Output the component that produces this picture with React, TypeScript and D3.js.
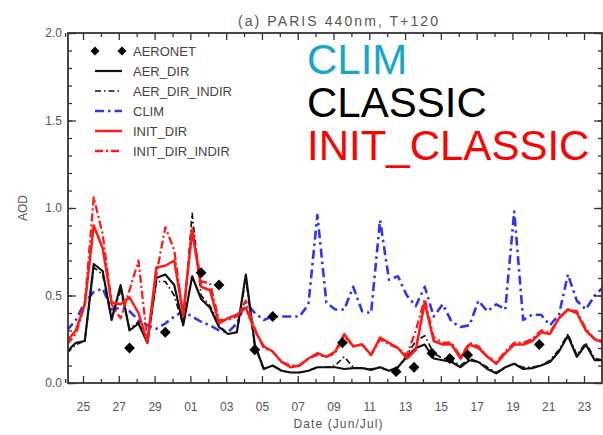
import React, { useRef, useEffect } from 'react';
import {
  select,
  scaleLinear,
  line,
  axisBottom,
  axisTop,
  axisLeft,
  axisRight,
  symbol,
  symbolSquare,
  range
} from 'd3';

// days counted from 25 Jun (0 = 25 Jun, 6 = 01 Jul)
const days = [
  -0.9, -0.4, 0.1, 0.6, 1.1, 1.6, 2.1, 2.6, 3.1, 3.6,
  4.1, 4.6, 5.1, 5.6, 6.1, 6.6, 7.1, 7.6, 8.1, 8.6,
  9.1, 9.6, 10.1, 10.6, 11.1, 11.6, 12.1, 12.6, 13.1, 13.6,
  14.1, 14.6, 15.1, 15.6, 16.1, 16.6, 17.1, 17.6, 18.1, 18.6,
  19.1, 19.6, 20.1, 20.6, 21.1, 21.6, 22.1, 22.6, 23.1, 23.6,
  24.1, 24.6, 25.1, 25.6, 26.1, 26.6, 27.1, 27.6, 28.1, 28.6,
  29.1
];

const aerDir = [
  0.18, 0.23, 0.24, 0.68, 0.64, 0.36, 0.56, 0.30, 0.34, 0.23,
  0.60, 0.62, 0.56, 0.33, 0.61, 0.48, 0.43, 0.32, 0.28, 0.29,
  0.62, 0.22, 0.08, 0.10, 0.07, 0.06, 0.06, 0.07, 0.09, 0.09,
  0.09, 0.08, 0.085, 0.085, 0.075, 0.09, 0.07, 0.09, 0.15, 0.20,
  0.22, 0.14, 0.13, 0.12, 0.09, 0.13, 0.12, 0.08, 0.055, 0.09,
  0.11, 0.08, 0.085, 0.10, 0.12, 0.18, 0.27, 0.15, 0.22, 0.13, 0.13
];

const aerDirIndir = [
  0.17, 0.22, 0.24, 0.66, 0.62, 0.37, 0.53, 0.31, 0.35, 0.23,
  0.58, 0.58, 0.50, 0.33, 0.97, 0.50, 0.44, 0.33, 0.28, 0.29,
  0.60, 0.21, 0.08, 0.10, 0.07, 0.06, 0.06, 0.07, 0.09, 0.09,
  0.10, 0.15, 0.09, 0.085, 0.08, 0.09, 0.07, 0.09, 0.16, 0.24,
  0.27, 0.17, 0.14, 0.13, 0.10, 0.14, 0.12, 0.09, 0.06, 0.09,
  0.11, 0.09, 0.09, 0.10, 0.13, 0.19, 0.28, 0.16, 0.23, 0.14, 0.13
];

const clim = [
  0.30, 0.36, 0.46, 0.52, 0.54, 0.42, 0.43, 0.41, 0.36, 0.33,
  0.31, 0.34, 0.38, 0.41, 0.38, 0.35, 0.33, 0.30, 0.29, 0.34,
  0.46, 0.40, 0.36, 0.38, 0.38, 0.38, 0.38, 0.45, 0.96, 0.46,
  0.42, 0.42, 0.55, 0.41, 0.40, 0.93, 0.59, 0.61, 0.50, 0.44,
  0.55, 0.38, 0.45, 0.35, 0.32, 0.33, 0.47, 0.41, 0.45, 0.42,
  0.98, 0.36, 0.39, 0.39, 0.33, 0.39, 0.62, 0.47, 0.42, 0.50, 0.55
];

const initDir = [
  0.24, 0.30, 0.45, 0.90, 0.77, 0.46, 0.45, 0.49, 0.40, 0.23,
  0.66, 0.67, 0.70, 0.39, 0.87, 0.55, 0.53, 0.34, 0.37, 0.39,
  0.43, 0.30, 0.21, 0.18, 0.12, 0.09, 0.10, 0.14, 0.17, 0.15,
  0.18, 0.28, 0.21, 0.22, 0.16, 0.26, 0.23, 0.20, 0.14, 0.19,
  0.46, 0.24, 0.22, 0.22, 0.14, 0.22, 0.20, 0.15, 0.11, 0.17,
  0.22, 0.22, 0.24, 0.29, 0.28, 0.37, 0.42, 0.40, 0.30, 0.25, 0.23
];

const initDirIndir = [
  0.22, 0.28, 0.45, 1.06, 0.85, 0.45, 0.37, 0.53, 0.70, 0.24,
  0.62, 0.89, 0.76, 0.38, 0.89, 0.58, 0.57, 0.36, 0.36, 0.38,
  0.47, 0.31, 0.20, 0.18, 0.12, 0.10, 0.10, 0.14, 0.16, 0.15,
  0.17, 0.27, 0.21, 0.22, 0.16, 0.25, 0.22, 0.20, 0.16, 0.30,
  0.48, 0.26, 0.23, 0.23, 0.15, 0.23, 0.21, 0.15, 0.12, 0.18,
  0.23, 0.23, 0.25, 0.30, 0.29, 0.37, 0.42, 0.41, 0.31, 0.25, 0.24
];

const aeronetDays = [2.6, 4.6, 6.6, 7.6, 9.6, 10.6, 14.5, 17.5, 18.5, 19.5, 20.5, 21.5, 25.5];
const aeronetAod = [0.20, 0.29, 0.63, 0.56, 0.19, 0.38, 0.23, 0.065, 0.09, 0.17, 0.14, 0.16, 0.22];

const tickDays = [0, 2, 4, 6, 8, 10, 12, 14, 16, 18, 20, 22, 24, 26, 28];
const tickLabels = ['25', '27', '29', '01', '03', '05', '07', '09', '11', '13', '15', '17', '19', '21', '23'];
const yTicks = [0, 0.5, 1.0, 1.5, 2.0];

const legendNames = ['AER_DIR', 'AER_DIR_INDIR', 'CLIM', 'INIT_DIR', 'INIT_DIR_INDIR'];
const bigLabels = ['CLIM', 'CLASSIC', 'INIT_CLASSIC'];
const bigColors = ['#18a6c8', '#000000', '#ff0000'];

const width = 603;
const height = 435;
const left = 68;
const right = 602;
const top = 33;
const bottom = 383;
const font = '"Liberation Sans", Arial, Helvetica, sans-serif';

const App = () => {
  const ref = useRef(null);

  useEffect(() => {
    const svg = select(ref.current);
    svg.selectAll('*').remove();

    const x = scaleLinear().domain([0, 28]).range([83, 584]);
    const y = scaleLinear().domain([0, 2]).range([bottom, top]);

    const series = [
      { values: aerDir, color: '#111111', width: 2.2, dash: null },
      { values: aerDirIndir, color: '#111111', width: 1.7, dash: '6,3,1.5,3' },
      { values: clim, color: '#3434f0', width: 2.6, dash: '9,4,2.5,4' },
      { values: initDir, color: '#ff1a1a', width: 2.5, dash: null },
      { values: initDirIndir, color: '#ff1a1a', width: 2.3, dash: '8,3,2,3' }
    ];
    const drawOrder = [2, 1, 0, 4, 3];

    svg.append('rect').attr('width', width).attr('height', height).attr('fill', '#fff');

    svg.append('defs')
      .append('clipPath')
      .attr('id', 'plot-clip')
      .append('rect')
      .attr('x', left)
      .attr('y', top)
      .attr('width', right - left)
      .attr('height', bottom - top);

    // title
    svg.append('text')
      .attr('x', 338)
      .attr('y', 26)
      .attr('text-anchor', 'middle')
      .attr('font-family', font)
      .attr('font-size', 14)
      .attr('fill', '#555')
      .attr('textLength', 200)
      .attr('lengthAdjust', 'spacing')
      .text('(a) PARIS 440nm, T+120');

    const lineGen = line()
      .x((d, i) => x(days[i]))
      .y(d => y(d));

    const plot = svg.append('g').attr('clip-path', 'url(#plot-clip)');
    drawOrder.forEach(idx => {
      const s = series[idx];
      plot.append('path')
        .datum(s.values)
        .attr('d', lineGen)
        .attr('fill', 'none')
        .attr('stroke', s.color)
        .attr('stroke-width', s.width)
        .attr('stroke-linejoin', 'round')
        .attr('stroke-dasharray', s.dash);
    });

    const diamond = symbol().type(symbolSquare).size(58);
    plot.selectAll('.aeronet')
      .data(aeronetAod)
      .enter()
      .append('path')
      .attr('d', diamond)
      .attr('transform', (d, i) => `translate(${x(aeronetDays[i])},${y(d)}) rotate(45)`)
      .attr('fill', '#000');

    // axes
    const axisColor = '#333';
    const styleAxis = g => {
      g.select('.domain').remove();
      g.selectAll('line').attr('stroke', axisColor).attr('stroke-width', 1.3);
      g.selectAll('text')
        .attr('fill', '#555')
        .attr('font-family', font)
        .attr('font-size', 12);
    };

    const minorDays = range(-1, 29, 2);
    const yMinor = range(0, 2.01, 0.1);

    svg.append('g')
      .attr('transform', `translate(0,${bottom})`)
      .call(axisBottom(x).tickValues(minorDays).tickSize(-4).tickFormat(() => ''))
      .call(styleAxis);
    svg.append('g')
      .attr('transform', `translate(0,${bottom})`)
      .call(axisBottom(x).tickValues(tickDays).tickSize(-7).tickPadding(19)
        .tickFormat((d, i) => tickLabels[i]))
      .call(styleAxis);
    svg.append('g')
      .attr('transform', `translate(0,${top})`)
      .call(axisTop(x).tickValues(minorDays).tickSize(-4).tickFormat(() => ''))
      .call(styleAxis);
    svg.append('g')
      .attr('transform', `translate(0,${top})`)
      .call(axisTop(x).tickValues(tickDays).tickSize(-7).tickFormat(() => ''))
      .call(styleAxis);

    svg.append('g')
      .attr('transform', `translate(${left},0)`)
      .call(axisLeft(y).tickValues(yMinor).tickSize(-4).tickFormat(() => ''))
      .call(styleAxis);
    svg.append('g')
      .attr('transform', `translate(${left},0)`)
      .call(axisLeft(y).tickValues(yTicks).tickSize(-8).tickPadding(6)
        .tickFormat(d => d.toFixed(1)))
      .call(styleAxis);
    svg.append('g')
      .attr('transform', `translate(${right},0)`)
      .call(axisRight(y).tickValues(yMinor).tickSize(-4).tickFormat(() => ''))
      .call(styleAxis);
    svg.append('g')
      .attr('transform', `translate(${right},0)`)
      .call(axisRight(y).tickValues(yTicks).tickSize(-8).tickFormat(() => ''))
      .call(styleAxis);

    svg.append('rect')
      .attr('x', left)
      .attr('y', top)
      .attr('width', right - left)
      .attr('height', bottom - top)
      .attr('fill', 'none')
      .attr('stroke', axisColor)
      .attr('stroke-width', 1.8);

    svg.append('text')
      .attr('x', 338)
      .attr('y', 428)
      .attr('text-anchor', 'middle')
      .attr('font-family', font)
      .attr('font-size', 12)
      .attr('fill', '#555')
      .attr('textLength', 89)
      .attr('lengthAdjust', 'spacing')
      .text('Date (Jun/Jul)');

    svg.append('text')
      .attr('transform', `translate(27,${(top + bottom) / 2}) rotate(-90)`)
      .attr('text-anchor', 'middle')
      .attr('font-family', font)
      .attr('font-size', 12)
      .attr('fill', '#555')
      .text('AOD');

    // legend
    const legend = svg.append('g').attr('font-family', font).attr('font-size', 13);
    legend.selectAll('.ldiamond')
      .data([95, 122])
      .enter()
      .append('path')
      .attr('d', symbol().type(symbolSquare).size(40))
      .attr('transform', d => `translate(${d},51) rotate(45)`)
      .attr('fill', '#000');
    legend.append('text')
      .attr('x', 133)
      .attr('y', 55.5)
      .attr('fill', '#444')
      .text('AERONET');
    series.forEach((s, i) => {
      const ly = 71 + i * 20;
      legend.append('line')
        .attr('x1', 95)
        .attr('x2', 122)
        .attr('y1', ly)
        .attr('y2', ly)
        .attr('stroke', s.color)
        .attr('stroke-width', s.width)
        .attr('stroke-dasharray', s.dash);
      legend.append('text')
        .attr('x', 133)
        .attr('y', ly + 4.5)
        .attr('fill', '#444')
        .text(legendNames[i]);
    });

    // big annotation labels
    svg.selectAll('.big')
      .data(bigLabels)
      .enter()
      .append('text')
      .attr('x', 307)
      .attr('y', (d, i) => 74 + i * 43)
      .attr('font-family', font)
      .attr('font-size', 42)
      .attr('fill', (d, i) => bigColors[i])
      .text(d => d);
  }, []);

  return (
    <svg
      ref={ref}
      width={width}
      height={height}
      style={{ position: 'absolute', left: 0, top: 0, display: 'block' }}
    />
  );
};

export default App;
